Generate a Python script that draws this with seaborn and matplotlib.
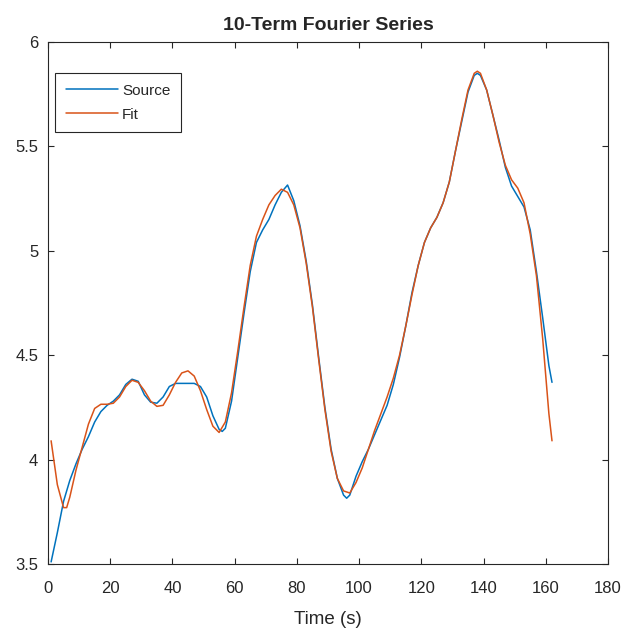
import matplotlib
matplotlib.use("Agg")
import matplotlib.pyplot as plt
import seaborn as sns
import pandas as pd

source_t = [1, 3, 5, 7, 9, 11, 13, 15, 17, 19, 21, 23, 25, 27, 29, 31, 33, 35, 37, 39,
            41, 43, 45, 47, 49, 51, 53, 55, 56, 57, 59, 61, 63, 65, 67, 69, 71, 73, 75, 77,
            79, 81, 83, 85, 87, 89, 91, 93, 95, 96, 97, 99, 101, 103, 105, 107, 109, 111, 113, 115,
            117, 119, 121, 123, 125, 127, 129, 131, 133, 135, 137, 138, 139, 141, 143, 145, 147, 149, 151, 153,
            155, 157, 159, 161, 162]
source_y = [3.51, 3.65, 3.80, 3.90, 3.98, 4.05, 4.11, 4.18, 4.23, 4.26, 4.28, 4.31, 4.36, 4.385, 4.375, 4.31, 4.275, 4.27, 4.30, 4.35,
            4.365, 4.365, 4.365, 4.365, 4.35, 4.30, 4.21, 4.145, 4.135, 4.15, 4.28, 4.49, 4.70, 4.90, 5.04, 5.10, 5.15, 5.22, 5.28, 5.315,
            5.24, 5.12, 4.95, 4.74, 4.49, 4.25, 4.05, 3.91, 3.83, 3.815, 3.83, 3.92, 3.99, 4.05, 4.12, 4.19, 4.26, 4.36, 4.49, 4.64,
            4.80, 4.93, 5.04, 5.11, 5.16, 5.23, 5.33, 5.48, 5.62, 5.76, 5.84, 5.85, 5.84, 5.77, 5.65, 5.53, 5.40, 5.31, 5.26, 5.21,
            5.10, 4.90, 4.68, 4.45, 4.37]

fit_t = [1, 3, 5, 6, 7, 9, 11, 13, 15, 17, 19, 21, 23, 25, 27, 29, 31, 33, 35, 37,
         39, 41, 43, 45, 47, 49, 51, 53, 55, 57, 59, 61, 63, 65, 67, 69, 71, 73, 75, 77,
         79, 81, 83, 85, 87, 89, 91, 93, 95, 97, 99, 101, 103, 105, 107, 109, 111, 113, 115, 117,
         119, 121, 123, 125, 127, 129, 131, 133, 135, 137, 138, 139, 141, 143, 145, 147, 149, 151, 153, 155,
         157, 159, 161, 162]
fit_y = [4.09, 3.88, 3.77, 3.77, 3.82, 3.95, 4.06, 4.17, 4.245, 4.265, 4.265, 4.27, 4.30, 4.35, 4.38, 4.37, 4.33, 4.28, 4.255, 4.26,
         4.31, 4.37, 4.415, 4.425, 4.40, 4.33, 4.24, 4.16, 4.13, 4.18, 4.32, 4.52, 4.73, 4.93, 5.07, 5.15, 5.22, 5.265, 5.295, 5.28,
         5.22, 5.11, 4.94, 4.73, 4.48, 4.24, 4.04, 3.91, 3.85, 3.84, 3.89, 3.96, 4.05, 4.14, 4.22, 4.30, 4.39, 4.50, 4.64, 4.79,
         4.93, 5.04, 5.11, 5.16, 5.23, 5.33, 5.48, 5.63, 5.77, 5.85, 5.86, 5.85, 5.77, 5.65, 5.52, 5.41, 5.34, 5.30, 5.23, 5.08,
         4.88, 4.58, 4.22, 4.09]

x_ticks = [0, 20, 40, 60, 80, 100, 120, 140, 160, 180]
y_ticks = [3.5, 4, 4.5, 5, 5.5, 6]
y_tick_labels = ["3.5", "4", "4.5", "5", "5.5", "6"]

sns.set_style("ticks")
plt.rcParams['font.family'] = ['Liberation Sans', 'DejaVu Sans']

fig = plt.figure(figsize=(6.36, 6.30), dpi=100)
ax = fig.add_axes([48/636, 1 - 564/630, (608 - 48)/636, (564 - 42)/630])

src = pd.DataFrame({"t": source_t, "y": source_y})
fit = pd.DataFrame({"t": fit_t, "y": fit_y})
sns.lineplot(data=src, x="t", y="y", ax=ax, color="#0072BD", lw=1.1, label="Source")
sns.lineplot(data=fit, x="t", y="y", ax=ax, color="#D95319", lw=1.1, label="Fit")

ax.set_xlim(0, 180)
ax.set_ylim(3.5, 6)
ax.set_xticks(x_ticks)
ax.set_yticks(y_ticks)
ax.set_yticklabels(y_tick_labels)
ax.tick_params(direction="in", length=4, width=0.8, labelsize=12, colors="#262626",
               top=True, right=True)
ax.tick_params(axis="x", pad=12)
ax.tick_params(axis="y", pad=7)
for s in ax.spines.values():
    s.set_visible(True)
    s.set_color("#262626")
    s.set_linewidth(0.8)
ax.set_xlabel("Time (s)", fontsize=13.5, color="#262626", labelpad=11)
ax.set_ylabel("")
ax.set_title("10-Term Fourier Series", fontsize=14, fontweight="bold", pad=9)

leg = ax.legend(loc="upper left", bbox_to_anchor=(7/560, 1 - 31/522), fontsize=11, frameon=True,
                fancybox=False, edgecolor="#262626", framealpha=1, borderpad=0.7,
                handlelength=3.4, handletextpad=0.3, labelspacing=0.65, borderaxespad=0)
leg.get_frame().set_linewidth(0.8)

fig.savefig("out.png", dpi=100)
